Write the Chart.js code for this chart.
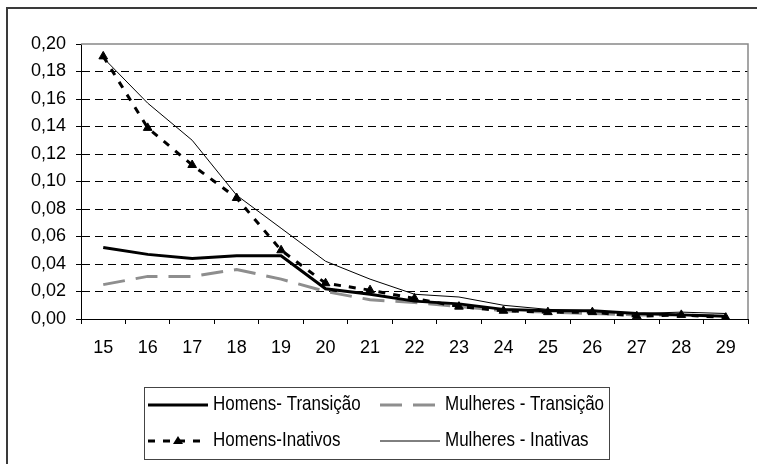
<!DOCTYPE html>
<html>
<head>
<meta charset="utf-8">
<script src="https://cdn.jsdelivr.net/npm/chart.js@4"></script>
<style>
  body { margin: 0; background: #fff; }
  canvas { display: block; }
</style>
</head>
<body>
<canvas id="lineChart" width="757" height="464"></canvas>
<script>
// data
var ages = ['15', '16', '17', '18', '19', '20', '21', '22', '23', '24', '25', '26', '27', '28', '29'];
var homensTransicao = [0.052, 0.047, 0.044, 0.046, 0.046, 0.022, 0.018, 0.013, 0.011, 0.007, 0.006, 0.006, 0.004, 0.003, 0.002];
var mulheresTransicao = [0.025, 0.031, 0.031, 0.036, 0.029, 0.020, 0.014, 0.012, 0.009, 0.006, 0.005, 0.004, 0.003, 0.003, 0.002];
var homensInativos = [0.191, 0.139, 0.112, 0.088, 0.050, 0.026, 0.021, 0.015, 0.009, 0.006, 0.005, 0.005, 0.002, 0.003, 0.001];
var mulheresInativas = [0.190, 0.157, 0.130, 0.090, 0.066, 0.042, 0.029, 0.018, 0.016, 0.010, 0.007, 0.006, 0.004, 0.005, 0.004];
var yMin = 0, yMax = 0.2, yStep = 0.02;

var FONT = "'Liberation Sans', Arial, sans-serif";

// gray frame round the plot area + outer chart border
var framePlugin = {
    id: 'frame',
    beforeDatasetsDraw: function(chart) {
        var ctx = chart.ctx, a = chart.chartArea;
        ctx.save();
        ctx.strokeStyle = '#888';
        ctx.lineWidth = 1.5;
        ctx.beginPath();
        ctx.moveTo(a.left, a.top);
        ctx.lineTo(a.right, a.top);
        ctx.lineTo(a.right, a.bottom);
        ctx.stroke();
        ctx.restore();
    },
    afterDraw: function(chart) {
        var ctx = chart.ctx;
        ctx.save();
        ctx.strokeStyle = '#3a3a3a';
        ctx.lineWidth = 2;
        ctx.beginPath();
        ctx.moveTo(7, chart.height + 5);
        ctx.lineTo(7, 8);
        ctx.lineTo(chart.width + 5, 8);
        ctx.stroke();
        ctx.restore();
    }
};

// two column legend in a box, like the original
var boxLegend = {
    id: 'boxLegend',
    afterDraw: function(chart) {
        var ctx = chart.ctx;
        var sets = chart.data.datasets;
        var cols = [148, 380];
        var rows = [405, 441];
        ctx.save();
        ctx.strokeStyle = '#444';
        ctx.lineWidth = 1;
        ctx.strokeRect(144.5, 387.5, 465, 72);
        ctx.font = '17px ' + FONT;
        ctx.fillStyle = '#000';
        ctx.textBaseline = 'middle';
        sets.forEach(function(ds, i) {
            var x = cols[i % 2], y = rows[Math.floor(i / 2)];
            ctx.save();
            ctx.strokeStyle = ds.borderColor;
            ctx.lineWidth = ds.borderWidth;
            ctx.setLineDash(ds.borderDash || []);
            ctx.beginPath();
            ctx.moveTo(x, y);
            ctx.lineTo(x + 60, y);
            ctx.stroke();
            if (ds.pointStyle === 'triangle') {
                ctx.setLineDash([]);
                ctx.fillStyle = ds.pointBackgroundColor;
                ctx.beginPath();
                ctx.moveTo(x + 30, y - 5);
                ctx.lineTo(x + 35, y + 3);
                ctx.lineTo(x + 25, y + 3);
                ctx.closePath();
                ctx.fill();
            }
            ctx.restore();
            // original text is a bit stretched vertically
            ctx.save();
            ctx.translate(x + 65, y);
            ctx.scale(1, 1.15);
            ctx.fillText(ds.label, 0, 0);
            ctx.restore();
        });
        ctx.restore();
    }
};

var ctx = document.getElementById('lineChart').getContext('2d');
var myChart = new Chart(ctx, {
    type: 'line',
    data: {
        labels: ages,
        datasets: [{
            label: 'Homens- Transição',
            data: homensTransicao,
            borderColor: '#000',
            borderWidth: 3,
            pointRadius: 0,
            order: 1,
        }, {
            label: 'Mulheres - Transição',
            data: mulheresTransicao,
            borderColor: '#8e8e8e',
            borderWidth: 3,
            borderDash: [22, 11],
            pointRadius: 0,
            order: 4,
        }, {
            label: 'Homens-Inativos',
            data: homensInativos,
            borderColor: '#000',
            borderWidth: 3,
            borderDash: [7, 8],
            pointStyle: 'triangle',
            pointRadius: 5,
            pointBackgroundColor: '#000',
            pointBorderColor: '#000',
            pointBorderWidth: 1,
            order: 2,
        }, {
            label: 'Mulheres - Inativas',
            data: mulheresInativas,
            borderColor: '#000',
            borderWidth: 1,
            pointRadius: 0,
            order: 3,
        }],
    },
    options: {
        responsive: false,
        animation: false,
        events: [],
        layout: {
            padding: { left: 7, top: 44, right: 9, bottom: 105 },
        },
        elements: {
            line: { tension: 0, fill: false },
        },
        plugins: {
            legend: { display: false },
            tooltip: { enabled: false },
        },
        scales: {
            x: {
                offset: true,
                afterFit: function(scale) { scale.height = 40; },
                grid: {
                    offset: true,
                    drawOnChartArea: false,
                    tickLength: 5,
                    tickColor: '#000',
                },
                border: { color: '#000', width: 1 },
                ticks: {
                    color: '#000',
                    font: { family: FONT, size: 18 },
                    padding: 13,
                    maxRotation: 0,
                    autoSkip: false,
                },
            },
            y: {
                min: yMin,
                max: yMax,
                afterFit: function(scale) { scale.width = 74; },
                grid: {
                    color: function(c) {
                        return (c.tick && (c.tick.value > yMin + 1e-9 && c.tick.value < yMax - 1e-9)) ? '#000' : 'rgba(0,0,0,0)';
                    },
                    tickColor: '#000',
                    tickLength: 5,
                },
                border: { color: '#000', width: 1, dash: [8, 5] },
                ticks: {
                    stepSize: yStep,
                    color: '#000',
                    font: { family: FONT, size: 18 },
                    padding: 10,
                    callback: function(v) { return v.toFixed(2).replace('.', ','); },
                },
            },
        },
    },
    plugins: [framePlugin, boxLegend],
});
</script>
</body>
</html>
